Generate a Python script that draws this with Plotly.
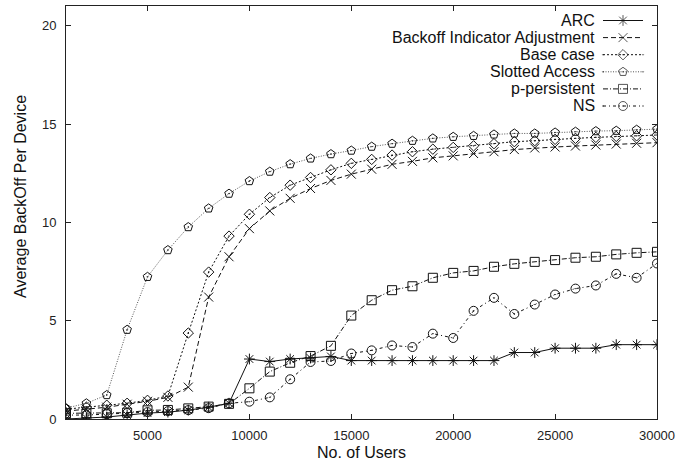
import plotly.graph_objects as go

users = list(range(1000, 30001, 1000))

arc = [0.0, 0.05, 0.1, 0.2, 0.3, 0.35, 0.45, 0.6, 0.8, 3.05,
       2.92, 3.05, 3.1, 3.18, 2.97, 2.97, 2.97, 2.97, 2.97, 2.97,
       2.97, 2.97, 3.38, 3.38, 3.6, 3.6, 3.6, 3.78, 3.78, 3.78]
bia = [0.4, 0.5, 0.6, 0.75, 0.9, 1.1, 1.62, 6.2, 8.25, 9.68,
       10.58, 11.22, 11.72, 12.13, 12.45, 12.7, 12.95, 13.1, 13.28, 13.38,
       13.5, 13.59, 13.7, 13.78, 13.83, 13.88, 13.93, 13.98, 14.02, 14.05]
base = [0.5, 0.6, 0.7, 0.8, 0.95, 1.17, 4.37, 7.47, 9.3, 10.41,
        11.26, 11.89, 12.28, 12.67, 13.0, 13.2, 13.42, 13.59, 13.72, 13.81,
        13.89, 14.0, 14.1, 14.15, 14.22, 14.27, 14.32, 14.37, 14.4, 14.44]
slotted = [0.55, 0.8, 1.22, 4.54, 7.23, 8.59, 9.76, 10.71, 11.46, 12.1,
           12.58, 12.96, 13.25, 13.47, 13.65, 13.85, 14.0, 14.15, 14.27, 14.35,
           14.4, 14.47, 14.52, 14.52, 14.57, 14.61, 14.64, 14.66, 14.71, 14.74]
ppers = [0.29, 0.29, 0.29, 0.32, 0.44, 0.46, 0.54, 0.63, 0.77, 1.56,
         2.41, 2.86, 3.2, 3.72, 5.26, 6.04, 6.55, 6.75, 7.18, 7.43,
         7.53, 7.74, 7.89, 7.99, 8.08, 8.2, 8.25, 8.37, 8.45, 8.5]
ns = [0.2, 0.2, 0.25, 0.3, 0.35, 0.4, 0.45, 0.55, 0.8, 0.88,
      1.1, 2.02, 2.9, 2.95, 3.33, 3.49, 3.74, 3.66, 4.34, 4.12,
      5.5, 6.16, 5.34, 5.82, 6.33, 6.63, 6.79, 7.38, 7.18, 7.91]

names = ["ARC", "Backoff Indicator Adjustment", "Base case",
         "Slotted Access", "p-persistent", "NS"]
series = [arc, bia, base, slotted, ppers, ns]

styles = [
    dict(dash="solid", color="#111", symbol="asterisk-open", size=9),
    dict(dash="5px,3px", color="#111", symbol="x-thin-open", size=9),
    dict(dash="2px,2px", color="#111", symbol="diamond-open-dot", size=8),
    dict(dash="1px,1.5px", color="#555", symbol="pentagon-open-dot", size=9),
    dict(dash="5px,2px,1px,2px", color="#111", symbol="square-open", size=9),
    dict(dash="3px,3px,1px,3px", color="#111", symbol="circle-open-dot", size=9),
]

FONT = "Liberation Sans, Arial, sans-serif"

fig = go.Figure()
for name, vals, st in zip(names, series, styles):
    fig.add_trace(go.Scatter(
        x=users, y=vals, name=name, mode="lines+markers",
        line=dict(color=st["color"], width=1, dash=st["dash"]),
        marker=dict(symbol=st["symbol"], size=st["size"], color="#111",
                    line=dict(color="#111", width=1)),
        showlegend=False))

# custom gnuplot-style legend (text left, sample right)
PL, PR, PT, PB = 66, 657, 6, 419
W, H = PR - PL, PB - PT
row_px = [20.5, 37.6, 54.7, 71.8, 88.9, 106.0]
text_x = (597 - PL) / W
s0, sm, s1 = (603 - PL) / W, (623 - PL) / W, (643 - PL) / W
annotations = []
for name, st, py in zip(names, styles, row_px):
    yf = (PB - py) / H
    fig.add_trace(go.Scatter(
        x=[s0, sm, s1], y=[yf, yf, yf], xaxis="x2", yaxis="y2",
        mode="lines+markers", showlegend=False, hoverinfo="skip",
        line=dict(color=st["color"], width=1, dash=st["dash"]),
        marker=dict(symbol=st["symbol"], size=[0, st["size"], 0], color="#111",
                    line=dict(color="#111", width=1))))
    annotations.append(dict(
        text=name, x=text_x, y=yf, xref="paper", yref="paper",
        xanchor="right", yanchor="middle", showarrow=False,
        font=dict(size=16, color="#111", family=FONT)))

annotations.append(dict(
    text="No. of Users", x=0.5, y=(PB - 452) / H, xref="paper", yref="paper",
    xanchor="center", yanchor="middle", showarrow=False,
    font=dict(size=16, color="#111", family=FONT)))
annotations.append(dict(
    text="Average BackOff Per Device", x=(20 - PL) / W, y=(PB - 197) / H,
    xref="paper", yref="paper", textangle=-90,
    xanchor="center", yanchor="middle", showarrow=False,
    font=dict(size=16, color="#111", family=FONT)))

axis_common = dict(showgrid=False, zeroline=False, showline=True, linecolor="#222",
                   linewidth=1, mirror="allticks", ticks="inside", ticklen=5,
                   tickcolor="#222", tickwidth=1,
                   tickfont=dict(size=13, color="#222", family=FONT))

fig.update_layout(
    width=691, height=464,
    margin=dict(l=PL, r=691 - PR, t=PT, b=464 - PB),
    paper_bgcolor="white", plot_bgcolor="white",
    xaxis=dict(range=[1000, 30000], tickvals=[5000, 10000, 15000, 20000, 25000, 30000],
               ticktext=["5000", "10000", "15000", "20000", "25000", "30000"],
               ticklabelstandoff=4, **axis_common),
    yaxis=dict(range=[0, 21], tickvals=[0, 5, 10, 15, 20],
               ticktext=["0", "5", "10", "15", "20"],
               ticklabelstandoff=6, **axis_common),
    xaxis2=dict(overlaying="x", range=[0, 1], visible=False),
    yaxis2=dict(overlaying="y", range=[0, 1], visible=False),
    annotations=annotations,
    showlegend=False,
)

fig.write_html("out.html")
